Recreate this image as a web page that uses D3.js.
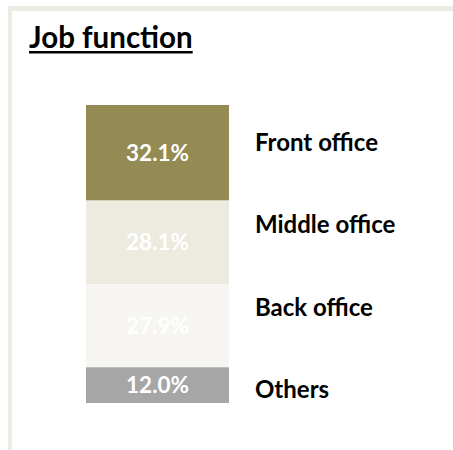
<!DOCTYPE html>
<html>
<head>
<meta charset="utf-8">
<script src="https://cdn.jsdelivr.net/npm/d3@7"></script>
<style>
  html, body { margin: 0; padding: 0; background: #fff; }
  svg { display: block; }
  text { font-family: Lato, "Open Sans", sans-serif; font-weight: bold; }
</style>
</head>
<body>
<svg id="chart" width="453" height="450"></svg>
<script>
// Job function shares (percent), top to bottom of the stack
const categories = ["Front office", "Middle office", "Back office", "Others"];
const shares = [32.1, 28.1, 27.9, 12.0];
const colors = ["#948a53", "#edeae0", "#f6f5f1", "#a6a6a6"];
const titleText = "Job function";

const svg = d3.select("#chart");

// Panel frame (top and left edges)
svg.append("rect").attr("x", 8).attr("y", 6).attr("width", 445).attr("height", 5).attr("fill", "#eeebe3");
svg.append("rect").attr("x", 8).attr("y", 6).attr("width", 4).attr("height", 444).attr("fill", "#eeebe3");

// Title with underline
const title = svg.append("text")
  .attr("x", 29).attr("y", 48)
  .attr("font-size", 29.5)
  .attr("fill", "#000")
  .text(titleText);
const tw = title.node().getComputedTextLength();
svg.append("rect").attr("x", 29).attr("y", 51).attr("width", tw).attr("height", 2.5).attr("fill", "#000");

// Stacked column
const row = {};
categories.forEach((c, i) => row[c] = shares[i]);
const stacked = d3.stack().keys(categories)([row]);
const total = d3.sum(shares);

const y = d3.scaleLinear().domain([0, total]).range([105, 403]);
const x = d3.scaleBand().domain(["all"]).range([86, 229]).padding(0);

const seg = svg.append("g").selectAll("g")
  .data(stacked)
  .join("g");

seg.append("rect")
  .attr("x", x("all"))
  .attr("width", x.bandwidth())
  .attr("y", d => y(d[0][0]))
  .attr("height", d => y(d[0][1]) - y(d[0][0]))
  .attr("fill", (d, i) => colors[i]);

seg.append("text")
  .attr("x", x("all") + x.bandwidth() / 2)
  .attr("y", d => (y(d[0][0]) + y(d[0][1])) / 2)
  .attr("dy", "0.36em")
  .attr("text-anchor", "middle")
  .attr("font-size", 22.5)
  .attr("fill", "#fff")
  .text((d, i) => shares[i].toFixed(1) + "%");

// Category labels to the right, evenly spaced
const ly = d3.scalePoint().domain(categories).range([151, 398]);
svg.append("g").selectAll("text")
  .data(categories)
  .join("text")
  .attr("x", 255)
  .attr("y", d => ly(d))
  .attr("font-size", 24)
  .attr("fill", "#000")
  .text(d => d);
</script>
</body>
</html>
